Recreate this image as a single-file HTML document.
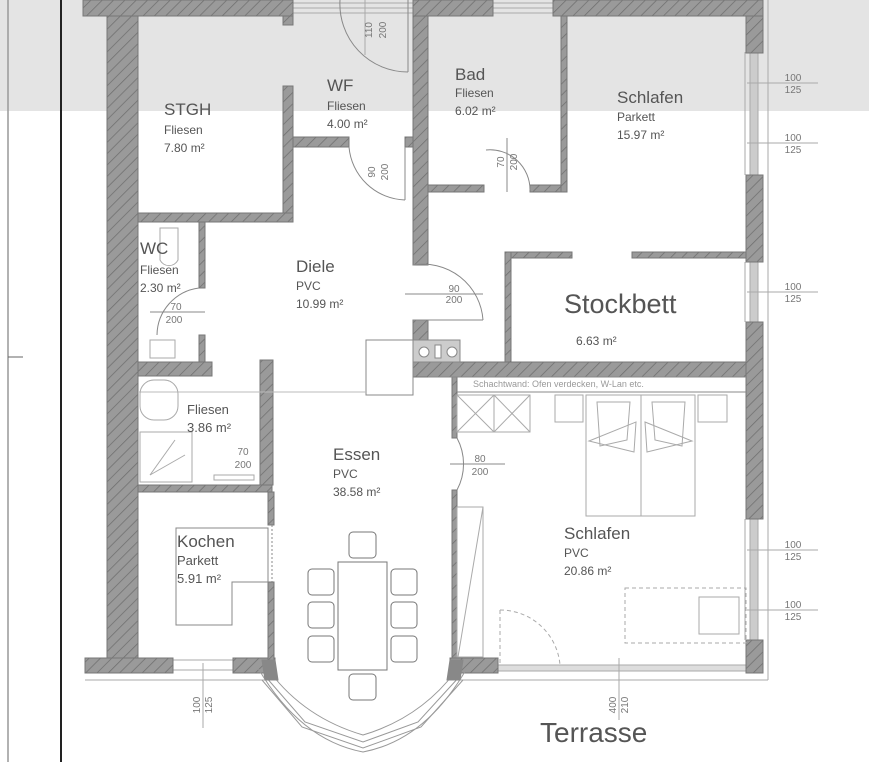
<!DOCTYPE html>
<html><head><meta charset="utf-8"><style>
html,body{margin:0;padding:0;background:#fff;}
svg{display:block;font-family:"Liberation Sans",sans-serif;}
</style></head><body>
<svg width="869" height="762" viewBox="0 0 869 762" xmlns="http://www.w3.org/2000/svg">
<defs>
<pattern id="h" width="8" height="8" patternUnits="userSpaceOnUse" patternTransform="rotate(45)">
<rect width="8" height="8" fill="#9a9a9a"/><line x1="0" y1="0" x2="0" y2="8" stroke="#6f6f6f" stroke-width="1.5"/>
</pattern>
</defs>
<rect x="0" y="0" width="869" height="111" fill="#e4e4e4"/>
<line x1="8" y1="0" x2="8" y2="762" stroke="#999" stroke-width="1.5"/>
<line x1="61" y1="0" x2="61" y2="762" stroke="#222" stroke-width="2"/>
<line x1="8" y1="357" x2="23" y2="357" stroke="#666" stroke-width="1"/>

<g fill="none" stroke="#aaa" stroke-width="1">
<!-- windows top -->
<rect x="293" y="3" width="120" height="10"/><line x1="293" y1="8" x2="413" y2="8"/>
<rect x="493" y="3" width="60" height="10"/><line x1="493" y1="8" x2="553" y2="8"/>
<!-- right windows -->
<rect x="750" y="52" width="8" height="123" fill="#ccc"/>
<rect x="750" y="262" width="8" height="60" fill="#ccc"/>
<rect x="750" y="519" width="8" height="121" fill="#ccc"/>
<line x1="745" y1="52" x2="745" y2="175"/><line x1="745" y1="262" x2="745" y2="322"/><line x1="745" y1="519" x2="745" y2="640"/>
<line x1="768" y1="0" x2="768" y2="680"/>
<!-- bottom windows -->
<rect x="173" y="660" width="60" height="10"/>
<rect x="498" y="665" width="250" height="6" fill="#ddd"/>
<line x1="85" y1="680" x2="275" y2="680"/><line x1="460" y1="680" x2="768" y2="680"/>
<!-- dim lines -->
<line x1="747" y1="83" x2="818" y2="83"/><line x1="747" y1="143" x2="818" y2="143"/><line x1="747" y1="292" x2="818" y2="292"/>
<line x1="747" y1="550" x2="818" y2="550"/><line x1="747" y1="610" x2="818" y2="610"/>
<line x1="203" y1="663" x2="203" y2="728"/><line x1="619" y1="658" x2="619" y2="720"/>
<line x1="365" y1="0" x2="365" y2="55"/>
</g>

<g fill="url(#h)" stroke="#777" stroke-width="1">
<rect x="83" y="0" width="210" height="16"/>
<rect x="413" y="0" width="80" height="16"/>
<rect x="553" y="0" width="210" height="16"/>
<rect x="107" y="16" width="31" height="644"/>
<rect x="85" y="658" width="88" height="15"/>
<rect x="233" y="658" width="42" height="15"/>
<rect x="746" y="16" width="17" height="37"/>
<rect x="746" y="175" width="17" height="87"/>
<rect x="746" y="322" width="17" height="197"/>
<rect x="746" y="640" width="17" height="33"/>
<rect x="450" y="658" width="48" height="15"/>
<rect x="283" y="16" width="10" height="9"/>
<rect x="283" y="86" width="10" height="136"/>
<rect x="138" y="213" width="155" height="9"/>
<rect x="293" y="137" width="56" height="10"/>
<rect x="405" y="137" width="8" height="10"/>
<rect x="413" y="16" width="15" height="249"/>
<rect x="413" y="320" width="15" height="57"/>
<rect x="428" y="185" width="56" height="7"/>
<rect x="530" y="185" width="37" height="7"/>
<rect x="561" y="16" width="6" height="176"/>
<rect x="505" y="252" width="67" height="6"/>
<rect x="632" y="252" width="114" height="6"/>
<rect x="505" y="252" width="6" height="110"/>
<rect x="413" y="362" width="333" height="15"/>
<rect x="199" y="222" width="6" height="66"/>
<rect x="199" y="335" width="6" height="27"/>
<rect x="138" y="362" width="74" height="14"/>
<rect x="260" y="360" width="13" height="125"/>
<rect x="138" y="485" width="134" height="7"/>
<rect x="268" y="492" width="6" height="33"/>
<rect x="268" y="582" width="6" height="78"/>
<rect x="452" y="377" width="5" height="61"/>
<rect x="452" y="490" width="5" height="168"/>
</g>

<g fill="none" stroke="#888" stroke-width="1">
<!-- doors -->
<path d="M340 0 A68 68 0 0 0 408 72"/><line x1="408" y1="0" x2="408" y2="72"/>
<path d="M349 147 A58 58 0 0 0 405 200"/><line x1="405" y1="147" x2="405" y2="200"/>
<path d="M486 150 A40 40 0 0 1 530 190"/><line x1="507" y1="138" x2="507" y2="192"/>
<path d="M413 265 A60 60 0 0 1 483 320"/><line x1="413" y1="320" x2="483" y2="320"/><line x1="405" y1="294" x2="483" y2="294"/>
<path d="M199 288 A48 48 0 0 0 157 335"/><line x1="150" y1="312" x2="205" y2="312"/>
<path d="M457 438 A55 55 0 0 1 457 490"/><line x1="450" y1="464" x2="505" y2="464"/>
<!-- kitchen -->
<rect x="366" y="340" width="47" height="55"/>
<rect x="413" y="340" width="47" height="22" fill="#ccc"/>
<circle cx="424" cy="352" r="5" fill="#fff"/><circle cx="452" cy="352" r="5" fill="#fff"/><rect x="435" y="345" width="6" height="13" fill="#fff"/>
<line x1="138" y1="392" x2="366" y2="392" stroke="#bbb"/>
<line x1="457" y1="392" x2="746" y2="392"/>
<line x1="428" y1="377" x2="746" y2="377"/>
<!-- wardrobe -->
<g stroke="#aaa"><rect x="457" y="395" width="73" height="37"/><line x1="494" y1="395" x2="494" y2="432"/>
<line x1="457" y1="395" x2="494" y2="432"/><line x1="494" y1="395" x2="457" y2="432"/>
<line x1="494" y1="395" x2="530" y2="432"/><line x1="530" y1="395" x2="494" y2="432"/>
<rect x="586" y="395" width="109" height="121"/><line x1="641" y1="395" x2="641" y2="516"/>
<rect x="555" y="395" width="28" height="27"/><rect x="698" y="395" width="29" height="27"/>
<path d="M597 402 L630 402 L627 440 L600 446 Z"/><path d="M652 402 L685 402 L682 446 L655 440 Z"/>
<path d="M589 441 L636 422 L634 452 Z"/><path d="M645 422 L692 441 L647 452 Z"/>
<rect x="457" y="507" width="26" height="150"/><line x1="483" y1="507" x2="458" y2="657"/>
<rect x="699" y="597" width="40" height="37"/>
</g>
<rect x="625" y="588" width="121" height="55" stroke-dasharray="4,3" stroke="#aaa"/>
<path d="M500 610 A60 60 0 0 1 560 665" stroke-dasharray="4,3" stroke="#aaa"/>
<line x1="500" y1="610" x2="500" y2="665" stroke-dasharray="4,3" stroke="#aaa"/>
<!-- bath -->
<g stroke="#aaa"><rect x="140" y="380" width="38" height="40" rx="14"/><rect x="140" y="432" width="52" height="50"/>
<line x1="150" y1="475" x2="175" y2="440"/><line x1="150" y1="475" x2="185" y2="455"/>
<rect x="150" y="340" width="25" height="18"/>
<path d="M160 228 L178 228 L178 260 A10 10 0 0 1 160 260 Z"/>
<rect x="214" y="475" width="40" height="5"/></g>
<!-- kochen counter -->
<path d="M176 528 L268 528 L268 582 L232 582 L232 625 L176 625 Z"/>
<line x1="272" y1="525" x2="272" y2="582" stroke-dasharray="2,2"/>
<!-- dining -->
<g stroke="#777"><rect x="338" y="562" width="49" height="108"/>
<rect x="349" y="532" width="27" height="26" rx="4"/><rect x="349" y="674" width="27" height="26" rx="4"/>
<rect x="308" y="569" width="26" height="26" rx="4"/><rect x="308" y="602" width="26" height="26" rx="4"/><rect x="308" y="636" width="26" height="26" rx="4"/>
<rect x="391" y="569" width="26" height="26" rx="4"/><rect x="391" y="602" width="26" height="26" rx="4"/><rect x="391" y="636" width="26" height="26" rx="4"/></g>
<!-- bay -->
<g stroke="#999"><path d="M265 676 L305 722 L363 742 L418 722 L460 676"/>
<path d="M262 680 L302 727 L363 748 L421 727 L463 680"/>
<path d="M258 668 Q300 740 363 752 Q426 740 467 668"/>
<path d="M270 672 Q305 718 363 735 Q420 718 455 672"/></g>
<path d="M262 660 L275 660 L278 680 L265 680 Z" fill="#888"/><path d="M450 660 L463 660 L460 680 L447 680 Z" fill="#888"/>
</g>

<g fill="#555">
<text x="164" y="115" font-size="17">STGH</text><text x="164" y="134" font-size="12">Fliesen</text><text x="164" y="152" font-size="12">7.80 m²</text>
<text x="327" y="91" font-size="17">WF</text><text x="327" y="110" font-size="12">Fliesen</text><text x="327" y="128" font-size="12">4.00 m²</text>
<text x="455" y="80" font-size="17">Bad</text><text x="455" y="97" font-size="12">Fliesen</text><text x="455" y="115" font-size="12">6.02 m²</text>
<text x="617" y="103" font-size="17">Schlafen</text><text x="617" y="121" font-size="12">Parkett</text><text x="617" y="139" font-size="12">15.97 m²</text>
<text x="140" y="254" font-size="17">WC</text><text x="140" y="274" font-size="12">Fliesen</text><text x="140" y="292" font-size="12">2.30 m²</text>
<text x="296" y="272" font-size="17">Diele</text><text x="296" y="290" font-size="12">PVC</text><text x="296" y="308" font-size="12">10.99 m²</text>
<text x="564" y="313" font-size="27">Stockbett</text><text x="576" y="345" font-size="12">6.63 m²</text>
<text x="187" y="414" font-size="13">Fliesen</text><text x="187" y="432" font-size="13">3.86 m²</text>
<text x="333" y="460" font-size="17">Essen</text><text x="333" y="478" font-size="12">PVC</text><text x="333" y="496" font-size="12">38.58 m²</text>
<text x="564" y="539" font-size="17">Schlafen</text><text x="564" y="557" font-size="12">PVC</text><text x="564" y="575" font-size="12">20.86 m²</text>
<text x="177" y="547" font-size="17">Kochen</text><text x="177" y="565" font-size="13">Parkett</text><text x="177" y="583" font-size="13">5.91 m²</text>
<text x="540" y="742" font-size="28">Terrasse</text>
<text x="473" y="387" font-size="9" fill="#999">Schachtwand: Ofen verdecken, W-Lan etc.</text>
</g>
<g fill="#777" font-size="10" text-anchor="middle">
<text x="793" y="81">100</text><text x="793" y="93">125</text>
<text x="793" y="141">100</text><text x="793" y="153">125</text>
<text x="793" y="290">100</text><text x="793" y="302">125</text>
<text x="793" y="548">100</text><text x="793" y="560">125</text>
<text x="793" y="608">100</text><text x="793" y="620">125</text>
<text x="454" y="292">90</text><text x="454" y="303">200</text>
<text x="176" y="310">70</text><text x="174" y="323">200</text>
<text x="243" y="455">70</text><text x="243" y="468">200</text>
<text x="480" y="462">80</text><text x="480" y="475">200</text>
<text transform="translate(372,30) rotate(-90)">110</text><text transform="translate(386,30) rotate(-90)">200</text>
<text transform="translate(375,172) rotate(-90)">90</text><text transform="translate(388,172) rotate(-90)">200</text>
<text transform="translate(504,162) rotate(-90)">70</text><text transform="translate(517,162) rotate(-90)">200</text>
<text transform="translate(200,705) rotate(-90)">100</text><text transform="translate(212,705) rotate(-90)">125</text>
<text transform="translate(616,705) rotate(-90)">400</text><text transform="translate(628,705) rotate(-90)">210</text>
</g>
</svg>
</body></html>
